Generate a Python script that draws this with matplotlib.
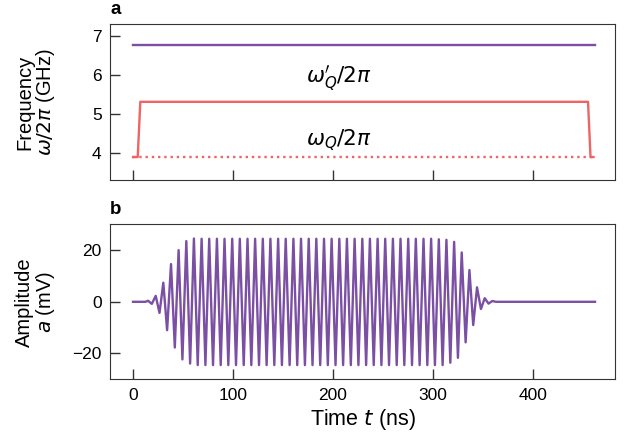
# Frequency pulse (a) and drive amplitude (b) vs time

import numpy as np
import matplotlib.pyplot as plt

plt.rcParams['font.family'] = ['Liberation Sans', 'DejaVu Sans']
plt.rcParams['mathtext.fontset'] = 'dejavusans'

# panel a: qubit frequency (GHz)
purple_t = [0, 462]
purple_f = [6.78, 6.78]
pulse_t = [0, 4.7, 7.3, 455.0, 457.5, 460.5]
pulse_f = [3.89, 3.89, 5.31, 5.31, 3.89, 3.89]
idle_t = [0, 460.5]
idle_f = [3.89, 3.89]

# panel b: drive amplitude (mV), one value per half-cycle extremum
peak_t = [15.0, 18.8, 22.7, 26.5, 30.3, 34.1, 38.0, 41.8, 45.6, 49.4,
          53.3, 57.1, 60.9, 64.7, 68.6, 72.4, 76.2, 80.0, 83.9, 87.7,
          91.5, 95.3, 99.2, 103.0, 106.8, 110.7, 114.5, 118.3, 122.1, 126.0,
          129.8, 133.6, 137.4, 141.3, 145.1, 148.9, 152.7, 156.6, 160.4, 164.2,
          168.0, 171.9, 175.7, 179.5, 183.3, 187.2, 191.0, 194.8, 198.6, 202.5,
          206.3, 210.1, 213.9, 217.8, 221.6, 225.4, 229.3, 233.1, 236.9, 240.7,
          244.6, 248.4, 252.2, 256.0, 259.9, 263.7, 267.5, 271.3, 275.2, 279.0,
          282.8, 286.6, 290.5, 294.3, 298.1, 301.9, 305.8, 309.6, 313.4, 317.3,
          321.1, 324.9, 328.7, 332.6, 336.4, 340.2, 344.0, 347.9, 351.7, 355.5,
          359.3]
peak_a = [0.4, -0.8, 2.3, -4.3, 7.4, -11.0, 14.6, -17.7, 20.0, -22.3,
          23.5, -23.9, 24.5, -24.5, 24.4, -24.5, 24.4, -24.5, 24.4, -24.5,
          24.4, -24.5, 24.4, -24.5, 24.4, -24.5, 24.4, -24.5, 24.4, -24.5,
          24.4, -24.5, 24.4, -24.5, 24.4, -24.5, 24.4, -24.5, 24.4, -24.5,
          24.4, -24.5, 24.4, -24.5, 24.4, -24.5, 24.4, -24.5, 24.4, -24.5,
          24.4, -24.5, 24.4, -24.5, 24.4, -24.5, 24.4, -24.5, 24.4, -24.5,
          24.4, -24.5, 24.4, -24.5, 24.4, -24.5, 24.4, -24.5, 24.4, -24.5,
          24.4, -24.5, 24.4, -24.5, 24.4, -24.5, 24.2, -24.5, 24.0, -23.6,
          23.2, -21.7, 19.1, -15.7, 12.3, -9.0, 5.6, -2.8, 1.4, -0.7,
          0.3]
lead_t, lead_a = [0, 12.5], [0, 0]
tail_t, tail_a = [363, 462], [0, 0]

purple = '#7b4fa3'
red = '#ef6464'

fig = plt.figure(figsize=(6.33, 4.43), dpi=100)
ax1 = fig.add_axes([0.1738, 0.5937, 0.7978, 0.3521])
ax2 = fig.add_axes([0.1738, 0.1438, 0.7978, 0.3499], sharex=ax1)

ax1.plot(purple_t, purple_f, color=purple, lw=1.7)
ax1.plot(pulse_t, pulse_f, color=red, lw=1.7)
ax1.plot(idle_t, idle_f, ':', color=red, lw=1.7)
ax1.text(206, 5.92, r"$\omega_Q'/2\pi$", ha='center', va='center', fontsize=15.5)
ax1.text(206, 4.33, r"$\omega_Q/2\pi$", ha='center', va='center', fontsize=15.5)
ax1.set_ylim(3.3, 7.31)
ax1.set_yticks([4, 5, 6, 7])
ax1.set_ylabel('Frequency\n' + r'$\omega/2\pi$ (GHz)', fontsize=14.5, linespacing=1.0)
ax1.tick_params(labelbottom=False)

ax2.plot(lead_t + peak_t + tail_t, lead_a + peak_a + tail_a, color=purple, lw=1.7)
ax2.set_ylim(-30, 30)
ax2.set_yticks([-20, 0, 20])
ax2.set_xlim(-23, 482)
ax2.set_xticks([0, 100, 200, 300, 400])
ax2.set_xlabel(r'Time $t$ (ns)', fontsize=15.5, labelpad=3)
ax2.set_ylabel('Amplitude\n' + r'$a$ (mV)', fontsize=14.5, linespacing=1.0)

for ax, lab in [(ax1, 'a'), (ax2, 'b')]:
    ax.tick_params(direction='in', length=7, width=1, labelsize=12.5, pad=6,
                   color='#333333')
    for s in ax.spines.values():
        s.set_color('#333333')
    ax.text(0.0, 1.04, lab, transform=ax.transAxes, fontsize=13.5, fontweight='bold',
            ha='left', va='bottom')
    ax.yaxis.set_label_coords(-0.105, 0.5)

plt.savefig('out.png')
